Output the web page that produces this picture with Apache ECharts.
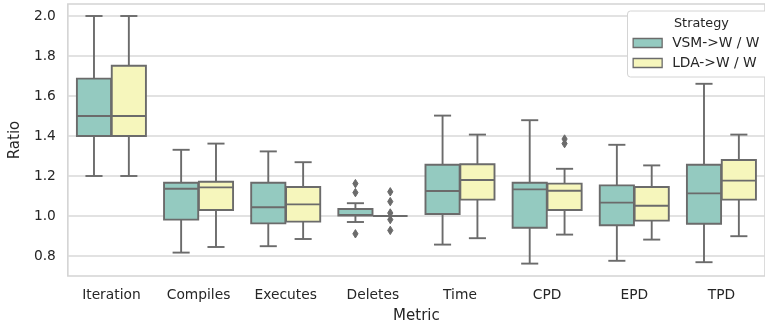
<!DOCTYPE html>
<html>
<head>
<meta charset="utf-8">
<script src="https://cdn.jsdelivr.net/npm/echarts@6/dist/echarts.min.js"></script>
<style>
  html, body { margin: 0; padding: 0; background: #fff; }
  #chart { width: 765px; height: 329px; }
</style>
</head>
<body>
<div id="chart"></div>
<script>
// Metrics along the x axis
const categories = ['Iteration', 'Compiles', 'Executes', 'Deletes', 'Time', 'CPD', 'EPD', 'TPD'];

// Box statistics per metric: [min whisker, Q1, median, Q3, max whisker]
const vsmStats = [
  [1.200, 1.400, 1.500, 1.687, 2.000],
  [0.817, 0.982, 1.136, 1.166, 1.331],
  [0.849, 0.963, 1.044, 1.166, 1.323],
  [0.970, 1.002, 1.005, 1.035, 1.064],
  [0.857, 1.010, 1.125, 1.256, 1.502],
  [0.762, 0.941, 1.133, 1.166, 1.479],
  [0.776, 0.954, 1.067, 1.153, 1.356],
  [0.769, 0.961, 1.113, 1.256, 1.661]
];
const ldaStats = [
  [1.200, 1.400, 1.500, 1.751, 2.000],
  [0.845, 1.030, 1.143, 1.171, 1.362],
  [0.885, 0.972, 1.058, 1.145, 1.269],
  [1.000, 1.000, 1.000, 1.000, 1.000],
  [0.889, 1.082, 1.180, 1.259, 1.407],
  [0.907, 1.030, 1.126, 1.162, 1.236],
  [0.882, 0.977, 1.051, 1.145, 1.253],
  [0.899, 1.082, 1.177, 1.280, 1.407]
];

// Outliers: [metric, value]
const vsmOutliers = [
  ['Deletes', 1.162], ['Deletes', 1.117], ['Deletes', 0.911]
];
const ldaOutliers = [
  ['Deletes', 1.121], ['Deletes', 1.072], ['Deletes', 1.015], ['Deletes', 0.982], ['Deletes', 0.928],
  ['CPD', 1.385], ['CPD', 1.362]
];

// y axis tick labels
const yTicks = [0.8, 1.0, 1.2, 1.4, 1.6, 1.8, 2.0];

const strategies = ['VSM->W / W', 'LDA->W / W'];
const fills = ['#94cac0', '#f6f6bc'];
const edge = '#6b6b6b';
const textColor = '#262626';
const font = 'DejaVu Sans';

// side: -1 for the left box of a pair, +1 for the right one
function boxRenderer(side, fill) {
  return function (params, api) {
    const cat = api.value(0);
    const band = api.size([1, 0])[0];
    const bw = band * 0.392;
    const cx = api.coord([cat, api.value(3)])[0] + side * band * 0.2;
    const y = i => api.coord([cat, api.value(i)])[1];
    const yMin = y(1), yQ1 = y(2), yMed = y(3), yQ3 = y(4), yMax = y(5);
    const ls = { stroke: edge, lineWidth: 1.9, fill: null };
    const cap = bw / 4;
    return {
      type: 'group',
      children: [
        { type: 'line', shape: { x1: cx, y1: yQ3, x2: cx, y2: yMax }, style: ls },
        { type: 'line', shape: { x1: cx, y1: yQ1, x2: cx, y2: yMin }, style: ls },
        { type: 'line', shape: { x1: cx - cap, y1: yMax, x2: cx + cap, y2: yMax }, style: ls },
        { type: 'line', shape: { x1: cx - cap, y1: yMin, x2: cx + cap, y2: yMin }, style: ls },
        { type: 'rect', shape: { x: cx - bw / 2, y: yQ3, width: bw, height: yQ1 - yQ3 },
          style: { fill: fill, stroke: edge, lineWidth: 1.9 } },
        { type: 'line', shape: { x1: cx - bw / 2, y1: yMed, x2: cx + bw / 2, y2: yMed }, style: ls }
      ]
    };
  };
}

function flierRenderer(side) {
  return function (params, api) {
    const band = api.size([1, 0])[0];
    const p = api.coord([api.value(0), api.value(1)]);
    const cx = p[0] + side * band * 0.2;
    const cy = p[1];
    const hw = 2.6, hh = 4.2;
    return {
      type: 'polygon',
      shape: { points: [[cx, cy - hh], [cx + hw, cy], [cx, cy + hh], [cx - hw, cy]] },
      style: { fill: edge, stroke: edge, lineWidth: 1 }
    };
  };
}

const boxData = stats => stats.map((s, i) => [i].concat(s));
const flierData = list => list.map(o => [categories.indexOf(o[0]), o[1]]);

const chart = echarts.init(document.getElementById('chart'), null, { renderer: 'canvas' });

chart.setOption({
  animation: false,
  backgroundColor: '#ffffff',
  textStyle: { fontFamily: font, color: textColor },
  grid: {
    left: 62.5, right: -8.7, top: 4, bottom: 49,
    show: true, borderColor: '#d4d4d4', borderWidth: 1.6, backgroundColor: 'transparent'
  },
  title: {
    text: 'Strategy', left: 669, top: 12,
    textStyle: { fontFamily: font, fontSize: 12.8, fontWeight: 'normal', color: textColor }
  },
  legend: {
    orient: 'vertical', left: 627.5, top: 11,
    padding: [25, 60, 7, 5],
    itemGap: 6, itemWidth: 29, itemHeight: 9,
    backgroundColor: '#ffffff', borderColor: '#d4d4d4', borderWidth: 1, borderRadius: 3,
    textStyle: { fontFamily: font, fontSize: 13.8, color: textColor, padding: [0, 0, 0, 5] },
    icon: 'rect',
    data: strategies.map((n, i) => ({
      name: n, itemStyle: { color: fills[i], borderColor: edge, borderWidth: 1.3 }
    }))
  },
  xAxis: {
    type: 'category', data: categories,
    name: 'Metric', nameLocation: 'middle', nameGap: 33,
    nameTextStyle: { fontFamily: font, fontSize: 15, color: textColor },
    axisLine: { show: false }, axisTick: { show: false },
    axisLabel: { fontFamily: font, fontSize: 13.8, color: textColor, margin: 12 },
    splitLine: { show: false }
  },
  yAxis: {
    type: 'value', min: 0.7, max: 2.06,
    name: 'Ratio', nameLocation: 'middle', nameGap: 38,
    nameTextStyle: { fontFamily: font, fontSize: 15, color: textColor },
    axisLine: { show: false },
    axisTick: { show: false, customValues: yTicks },
    axisLabel: {
      fontFamily: font, fontSize: 13.8, color: textColor, margin: 12,
      customValues: yTicks, formatter: v => v.toFixed(1)
    },
    splitLine: { show: true, lineStyle: { color: '#d9d9d9', width: 1.5 } }
  },
  series: [
    { name: strategies[0], type: 'custom', renderItem: boxRenderer(-1, fills[0]),
      itemStyle: { color: fills[0] }, encode: { x: 0, y: [1, 2, 3, 4, 5] }, data: boxData(vsmStats), z: 2 },
    { name: strategies[1], type: 'custom', renderItem: boxRenderer(1, fills[1]),
      itemStyle: { color: fills[1] }, encode: { x: 0, y: [1, 2, 3, 4, 5] }, data: boxData(ldaStats), z: 2 },
    { name: strategies[0], type: 'custom', renderItem: flierRenderer(-1),
      encode: { x: 0, y: 1 }, data: flierData(vsmOutliers), z: 3 },
    { name: strategies[1], type: 'custom', renderItem: flierRenderer(1),
      encode: { x: 0, y: 1 }, data: flierData(ldaOutliers), z: 3 }
  ]
});
</script>
</body>
</html>
